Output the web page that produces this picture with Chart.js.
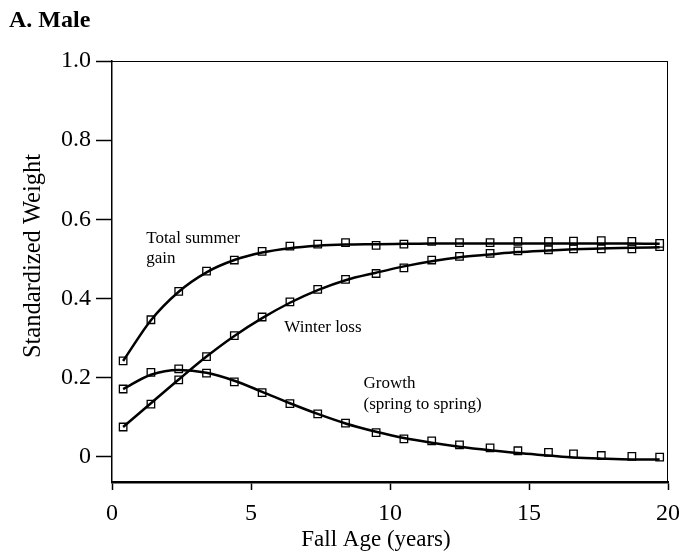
<!DOCTYPE html>
<html lang="en">
<head>
  <meta charset="UTF-8">
  <script src="https://cdn.jsdelivr.net/npm/chart.js"></script>
  <title>A. Male</title>
  <style>
    html, body { margin: 0; padding: 0; background: #fff; }
    .box { position: relative; width: 679px; height: 558px; }
  </style>
</head>
<body>
  <div class="box">
    <canvas id="grafico"></canvas>
  </div>

<script>
  // fall age of each point (years)
  const ages = [0.4, 1.4, 2.4, 3.4, 4.4, 5.4, 6.4, 7.4, 8.4, 9.5, 10.5, 11.5, 12.5, 13.6, 14.6, 15.7, 16.6, 17.6, 18.7, 19.7];

  // squares
  const summerGain = [0.242, 0.346, 0.418, 0.469, 0.497, 0.519, 0.532, 0.537, 0.541, 0.534, 0.537, 0.544, 0.541, 0.541, 0.544, 0.544, 0.545, 0.546, 0.544, 0.539];
  const winterLoss = [0.075, 0.133, 0.194, 0.253, 0.306, 0.353, 0.391, 0.423, 0.448, 0.463, 0.477, 0.497, 0.506, 0.514, 0.520, 0.523, 0.525, 0.525, 0.525, 0.531];
  const growth = [0.171, 0.213, 0.222, 0.211, 0.189, 0.162, 0.134, 0.108, 0.085, 0.061, 0.045, 0.040, 0.030, 0.022, 0.015, 0.011, 0.007, 0.003, 0.001, -0.001];

  // smooth curves
  const summerFit = [0.242, 0.345, 0.417, 0.466, 0.497, 0.516, 0.527, 0.533, 0.536, 0.537, 0.538, 0.539, 0.539, 0.539, 0.539, 0.539, 0.539, 0.539, 0.539, 0.538];
  const winterFit = [0.075, 0.135, 0.195, 0.253, 0.305, 0.350, 0.389, 0.421, 0.446, 0.465, 0.481, 0.494, 0.504, 0.511, 0.517, 0.521, 0.524, 0.526, 0.528, 0.529];
  const growthFit = [0.171, 0.207, 0.219, 0.212, 0.192, 0.164, 0.135, 0.108, 0.084, 0.063, 0.047, 0.035, 0.025, 0.016, 0.009, 0.003, -0.002, -0.005, -0.007, -0.007];

  const xTicks = [0, 5, 10, 15, 20];
  const yTicks = [0, 0.2, 0.4, 0.6, 0.8, 1.0];

  // curve labels, in data units (x = left edge, y = baseline)
  const notes = [
    { text: 'Total summer', x: 1.23, y: 0.540 },
    { text: 'gain', x: 1.23, y: 0.490 },
    { text: 'Winter loss', x: 6.2, y: 0.316 },
    { text: 'Growth', x: 9.05, y: 0.174 },
    { text: '(spring to spring)', x: 9.05, y: 0.121 }
  ];

  const serif = "'Liberation Serif', 'Times New Roman', serif";

  function pares(ys) {
    return ages.map((a, i) => ({ x: a, y: ys[i] }));
  }

  function curva(ys) {
    return {
      data: pares(ys),
      showLine: true,
      borderColor: '#000',
      borderWidth: 2.5,
      pointRadius: 0,
      fill: false,
      cubicInterpolationMode: 'monotone',
      clip: false
    };
  }

  function quadrados(ys) {
    return {
      data: pares(ys),
      showLine: false,
      pointStyle: 'rect',
      pointRadius: 5.3,
      pointBorderWidth: 1.3,
      pointBorderColor: '#000',
      pointBackgroundColor: '#fff',
      clip: false
    };
  }

  // frame, titles and curve labels
  const extras = {
    id: 'extras',
    afterDatasetsDraw(chart) {
      const { ctx, chartArea: a, scales } = chart;
      ctx.save();
      ctx.strokeStyle = '#000';
      ctx.lineWidth = 1;
      ctx.beginPath();
      ctx.moveTo(a.left, a.top + 0.5);
      ctx.lineTo(a.right, a.top + 0.5);
      ctx.moveTo(a.right - 0.5, a.top);
      ctx.lineTo(a.right - 0.5, a.bottom);
      ctx.stroke();

      ctx.fillStyle = '#000';
      ctx.textBaseline = 'alphabetic';
      ctx.textAlign = 'left';
      ctx.font = '17px ' + serif;
      notes.forEach(n => {
        ctx.fillText(n.text, scales.x.getPixelForValue(n.x), scales.y.getPixelForValue(n.y));
      });

      ctx.font = 'bold 24px ' + serif;
      ctx.fillText('A. Male', 9, 27);

      ctx.textAlign = 'center';
      ctx.font = '23px ' + serif;
      ctx.fillText('Fall Age (years)', 376, 546);

      ctx.font = '24.5px ' + serif;
      ctx.translate(40, 256);
      ctx.rotate(-Math.PI / 2);
      ctx.fillText('Standardized Weight', 0, 0);
      ctx.restore();
    }
  };

  new Chart(document.getElementById('grafico'), {
    type: 'scatter',
    data: {
      datasets: [
        curva(summerFit), curva(winterFit), curva(growthFit),
        quadrados(summerGain), quadrados(winterLoss), quadrados(growth)
      ]
    },
    options: {
      responsive: true,
      maintainAspectRatio: false,
      animation: false,
      layout: { padding: { top: 61, right: 11, left: 0, bottom: 0 } },
      plugins: { legend: { display: false }, tooltip: { enabled: false } },
      scales: {
        x: {
          type: 'linear',
          min: 0,
          max: 20,
          afterBuildTicks: s => { s.ticks = xTicks.map(v => ({ value: v })); },
          afterFit: s => { s.height = 76; s.paddingLeft = 0; s.paddingRight = 0; },
          grid: { drawOnChartArea: false, color: '#000', tickLength: 8, tickWidth: 1.5 },
          border: { color: '#000', width: 2.5 },
          ticks: { color: '#000', padding: 9, maxRotation: 0, font: { family: serif, size: 24 } }
        },
        y: {
          min: -0.064,
          max: 1.0,
          afterBuildTicks: s => { s.ticks = yTicks.map(v => ({ value: v })); },
          afterFit: s => { s.width = 112; s.paddingTop = 0; s.paddingBottom = 0; },
          grid: { drawOnChartArea: false, color: '#000', tickLength: 16, tickWidth: 1.5 },
          border: { color: '#000', width: 1.5 },
          ticks: {
            color: '#000', padding: 5, font: { family: serif, size: 24 },
            callback: v => (v === 0 ? '0' : v.toFixed(1))
          }
        }
      }
    },
    plugins: [extras]
  });
</script>
</body>
</html>
